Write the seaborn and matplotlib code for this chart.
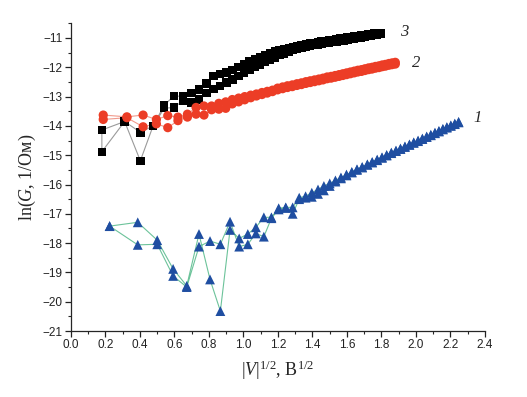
import matplotlib
matplotlib.use("Agg")
import matplotlib.pyplot as plt
import numpy as np
import pandas as pd
import seaborn as sns

# curve 1 (blue triangles): forward branch a, backward branch b
x1 = [0.224, 0.387, 0.500, 0.592, 0.671, 0.742, 0.806, 0.866, 0.922, 0.975,
      1.025, 1.072, 1.118, 1.162, 1.204, 1.245, 1.285, 1.323, 1.360, 1.396,
      1.432, 1.466, 1.500, 1.533, 1.565, 1.597, 1.628, 1.658, 1.688, 1.718,
      1.746, 1.775, 1.803, 1.830, 1.857, 1.884, 1.910, 1.936, 1.962, 1.987,
      2.012, 2.037, 2.062, 2.086, 2.110, 2.133, 2.156, 2.179, 2.202, 2.225,
      2.247]
y1a = [-17.42, -17.29, -17.90, -18.88, -19.46, -17.69, -19.24, -20.32, -17.55, -17.84,
       -17.69, -17.46, -17.12, -17.12, -16.81, -16.78, -16.78, -16.45, -16.40, -16.28,
       -16.17, -16.05, -15.96, -15.86, -15.76, -15.66, -15.57, -15.48, -15.40, -15.31,
       -15.23, -15.15, -15.07, -14.99, -14.91, -14.84, -14.77, -14.70, -14.63, -14.56,
       -14.50, -14.43, -14.36, -14.30, -14.23, -14.17, -14.10, -14.04, -13.98, -13.92,
       -13.86]
y1b = [-17.42, -18.06, -18.04, -19.12, -19.50, -18.12, -17.93, -18.04, -17.27, -18.12,
       -18.04, -17.67, -17.78, -17.15, -16.85, -16.80, -17.00, -16.50, -16.45, -16.42,
       -16.32, -16.20, -16.05, -15.90, -15.79, -15.69, -15.59, -15.50, -15.42, -15.33,
       -15.25, -15.17, -15.09, -15.01, -14.93, -14.86, -14.79, -14.72, -14.65, -14.58,
       -14.52, -14.45, -14.38, -14.32, -14.25, -14.19, -14.12, -14.06, -14.00, -13.94,
       -13.88]

# curve 2 (red circles)
x2 = [0.187, 0.324, 0.418, 0.495, 0.561, 0.620, 0.675, 0.725, 0.771, 0.815,
      0.857, 0.897, 0.935, 0.972, 1.007, 1.042, 1.075, 1.107, 1.138, 1.168,
      1.198, 1.227, 1.255, 1.283, 1.310, 1.336, 1.362, 1.387, 1.412, 1.437,
      1.461, 1.485, 1.508, 1.531, 1.554, 1.576, 1.598, 1.620, 1.642, 1.663,
      1.684, 1.704, 1.725, 1.745, 1.765, 1.785, 1.804, 1.823, 1.843, 1.861,
      1.880]
y2a = [-13.63, -13.69, -13.63, -13.78, -13.65, -13.70, -13.60, -13.37, -13.32, -13.32,
       -13.23, -13.18, -13.10, -13.05, -13.00, -12.95, -12.91, -12.86, -12.82, -12.78,
       -12.71, -12.67, -12.63, -12.60, -12.56, -12.53, -12.49, -12.46, -12.43, -12.40,
       -12.37, -12.33, -12.31, -12.28, -12.25, -12.22, -12.19, -12.16, -12.13, -12.10,
       -12.08, -12.05, -12.02, -12.00, -11.97, -11.95, -11.92, -11.90, -11.87, -11.85,
       -11.83]
y2b = [-13.78, -13.72, -14.03, -13.93, -14.06, -13.82, -13.70, -13.60, -13.63, -13.45,
       -13.43, -13.40, -13.25, -13.18, -13.11, -13.04, -12.98, -12.93, -12.88, -12.83,
       -12.77, -12.73, -12.69, -12.66, -12.62, -12.59, -12.55, -12.52, -12.49, -12.46,
       -12.43, -12.39, -12.37, -12.34, -12.31, -12.28, -12.25, -12.22, -12.19, -12.16,
       -12.14, -12.11, -12.08, -12.06, -12.03, -12.01, -11.98, -11.96, -11.93, -11.91,
       -11.89]

# curve 3 (black squares)
x3 = [0.179, 0.311, 0.402, 0.476, 0.540, 0.597, 0.650, 0.698, 0.743, 0.785,
      0.826, 0.864, 0.901, 0.936, 0.971, 1.003, 1.035, 1.066, 1.096, 1.126,
      1.154, 1.182, 1.209, 1.236, 1.262, 1.287, 1.312, 1.337, 1.361, 1.385,
      1.408, 1.431, 1.453, 1.475, 1.497, 1.519, 1.540, 1.561, 1.582, 1.602,
      1.622, 1.642, 1.662, 1.681, 1.701, 1.720, 1.738, 1.757, 1.775, 1.794]
y3a = [-14.14, -13.85, -14.22, -14.00, -13.30, -12.97, -13.00, -12.87, -12.76, -12.55,
       -12.30, -12.23, -12.18, -12.10, -12.00, -11.90, -11.80, -11.72, -11.64, -11.57,
       -11.51, -11.46, -11.42, -11.38, -11.34, -11.31, -11.28, -11.25, -11.22, -11.19,
       -11.17, -11.14, -11.12, -11.10, -11.08, -11.06, -11.04, -11.02, -11.00, -10.98,
       -10.96, -10.94, -10.93, -10.91, -10.90, -10.88, -10.87, -10.85, -10.84, -10.82]
y3b = [-14.88, -13.85, -15.19, -14.00, -13.40, -13.37, -13.14, -13.20, -13.10, -12.87,
       -12.75, -12.64, -12.52, -12.42, -12.30, -12.20, -12.10, -12.00, -11.90, -11.81,
       -11.73, -11.66, -11.59, -11.53, -11.47, -11.42, -11.38, -11.34, -11.31, -11.28,
       -11.25, -11.22, -11.20, -11.18, -11.16, -11.14, -11.12, -11.10, -11.08, -11.06,
       -11.04, -11.02, -11.00, -10.98, -10.96, -10.94, -10.92, -10.90, -10.88, -10.86]

labels = ['1', '2', '3']
label_pos = [(2.33, -13.74), (1.975, -11.86), (1.907, -10.78)]


def sweep(x, ya, yb):
    # the voltage sweep passes through zero: branch a backwards, then branch b
    return pd.DataFrame({'x': x[::-1] + x, 'y': ya[::-1] + yb,
                         'n': np.arange(2 * len(x))})


sns.set_style('ticks')
plt.rcParams['font.family'] = ['Liberation Sans', 'DejaVu Sans']
plt.rcParams['mathtext.fontset'] = 'custom'
plt.rcParams['mathtext.rm'] = 'Liberation Serif'
plt.rcParams['mathtext.it'] = 'Liberation Serif:italic'

fig = plt.figure(figsize=(5.27, 3.97), dpi=100)
ax = fig.add_axes([0.1347, 0.1662, 0.7856, 0.775])

series = [
    (sweep(x3, y3a, y3b), 's', '#000000', '#9a9a9a', 36),
    (sweep(x2, y2a, y2b), 'o', '#ec3d26', '#f19a8c', 44),
    (sweep(x1, y1a, y1b), '^', '#1f4ea1', '#6cc39a', 50),
]
for df, mk, col, lcol, sz in series:
    sns.lineplot(data=df, x='x', y='y', sort=False, estimator=None, ax=ax,
                 color=lcol, linewidth=0.8, zorder=2)
    sns.scatterplot(data=df, x='x', y='y', marker=mk, color=col, s=sz,
                    edgecolor='none', linewidth=0, ax=ax, zorder=3)

for lab, (tx, ty) in zip(labels, label_pos):
    ax.text(tx, ty, lab, fontsize=12, fontstyle='italic',
            family='Liberation Serif', ha='left', va='center')

ax.set_xlim(0, 2.4)
ax.set_ylim(-21, -10.5)
ax.set_xticks(np.arange(0, 2.41, 0.2))
ax.set_xticks(np.arange(0, 2.41, 0.1), minor=True)
ax.set_yticks(np.arange(-21, -10.9, 1))
ax.set_yticks(np.arange(-21, -10.4, 0.5), minor=True)
ax.set_xticklabels([f'{v:.1f}' for v in np.arange(0, 2.41, 0.2)])
ax.set_yticklabels([f'\u2212{abs(int(v))}' for v in np.arange(-21, -10.9, 1)])
ax.tick_params(axis='both', which='major', direction='out', length=4,
               width=0.9, labelsize=8.5, colors='#222222', pad=2)
ax.tick_params(axis='both', which='minor', direction='out', length=2.5, width=0.8)
for s in ['left', 'bottom']:
    ax.spines[s].set_linewidth(0.9)
sns.despine(ax=ax)

ax.set_xlabel(r'$|V|^{1/2}$, В$^{1/2}$', fontsize=13, family='Liberation Serif',
              labelpad=5)
ax.set_ylabel(r'ln($G$, 1/Ом)', fontsize=13, family='Liberation Serif', labelpad=3)

fig.savefig('out.png', dpi=100)
